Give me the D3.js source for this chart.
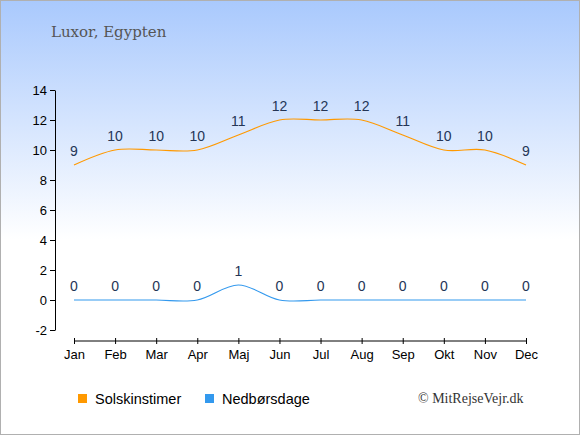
<!DOCTYPE html>
<html>
<head>
<meta charset="utf-8">
<script src="https://cdn.jsdelivr.net/npm/d3@7"></script>
<style>
  body { margin: 0; }
  svg { display: block; }
</style>
</head>
<body>
<svg id="chart"></svg>
<script>
var months = ['Jan', 'Feb', 'Mar', 'Apr', 'Maj', 'Jun', 'Jul', 'Aug', 'Sep', 'Okt', 'Nov', 'Dec'];
var sunHours = [9, 10, 10, 10, 11, 12, 12, 12, 11, 10, 10, 9];
var rainDays = [0, 0, 0, 0, 1, 0, 0, 0, 0, 0, 0, 0];
var yTicks = [-2, 0, 2, 4, 6, 8, 10, 12, 14];

var width = 580, height = 435;
var svg = d3.select('#chart').attr('width', width).attr('height', height);

var defs = svg.append('defs');
var grad = defs.append('linearGradient').attr('id', 'bg')
    .attr('x1', 0).attr('y1', 0).attr('x2', 0).attr('y2', 1);
grad.append('stop').attr('offset', '0%').attr('stop-color', '#a9c9fd');
grad.append('stop').attr('offset', '55%').attr('stop-color', '#ffffff');
grad.append('stop').attr('offset', '100%').attr('stop-color', '#ffffff');

svg.append('rect')
    .attr('x', 0.5).attr('y', 0.5)
    .attr('width', width - 1).attr('height', height - 1)
    .attr('fill', 'url(#bg)')
    .attr('stroke', '#b0b0b0');

svg.append('text')
    .attr('x', 51).attr('y', 37)
    .attr('font-family', 'DejaVu Serif, serif')
    .attr('font-size', 15)
    .attr('fill', '#555')
    .text('Luxor, Egypten');

var x = d3.scalePoint().domain(months).range([74, 526]);
var y = d3.scaleLinear().domain([-2, 14]).range([330, 90]);

var yAxis = svg.append('g')
    .attr('transform', 'translate(55,0)')
    .call(d3.axisLeft(y).tickValues(yTicks).tickSize(5).tickSizeOuter(0)
        .tickFormat(function (d) { return String(d); }));
yAxis.select('.domain').attr('stroke', '#000');
yAxis.selectAll('text').attr('font-family', 'Liberation Sans, Arial, sans-serif').attr('font-size', 13).attr('fill', '#000');

var xAxis = svg.append('g')
    .attr('transform', 'translate(0,341)')
    .call(d3.axisBottom(x).tickSize(5).tickSizeOuter(0));
xAxis.select('.domain').attr('d', 'M74,0H526');
xAxis.selectAll('.tick line').attr('y1', -3).attr('y2', 3);
xAxis.selectAll('text').attr('y', 9).attr('font-family', 'Liberation Sans, Arial, sans-serif').attr('font-size', 13).attr('fill', '#000');

var line = d3.line()
    .x(function (d, i) { return x(months[i]); })
    .y(function (d) { return y(d); })
    .curve(d3.curveCardinal.tension(0));

var series = [
    { values: sunHours, color: '#ff9900' },
    { values: rainDays, color: '#3399ee' }
];

series.forEach(function (s) {
    svg.append('path')
        .datum(s.values)
        .attr('fill', 'none')
        .attr('stroke', s.color)
        .attr('stroke-width', 1.2)
        .attr('d', line);
    svg.append('g').selectAll('text')
        .data(s.values)
        .enter().append('text')
        .attr('x', function (d, i) { return x(months[i]); })
        .attr('y', function (d) { return y(d) - 9; })
        .attr('text-anchor', 'middle')
        .attr('font-family', 'Liberation Sans, Arial, sans-serif')
        .attr('font-size', 14)
        .attr('fill', '#243556')
        .text(function (d) { return d; });
});

var legend = [
    { label: 'Solskinstimer', color: '#ff9900', x: 78 },
    { label: 'Nedbørsdage', color: '#3399ee', x: 205 }
];
legend.forEach(function (l) {
    svg.append('rect')
        .attr('x', l.x).attr('y', 394)
        .attr('width', 9).attr('height', 9)
        .attr('fill', l.color);
    svg.append('text')
        .attr('x', l.x + 17).attr('y', 404)
        .attr('font-family', 'Liberation Sans, Arial, sans-serif')
        .attr('font-size', 14.5)
        .attr('fill', '#000')
        .text(l.label);
});

svg.append('text')
    .attr('x', 418).attr('y', 403)
    .attr('font-family', 'Liberation Serif, serif')
    .attr('font-size', 14)
    .attr('fill', '#333')
    .text('© MitRejseVejr.dk');
</script>
</body>
</html>
